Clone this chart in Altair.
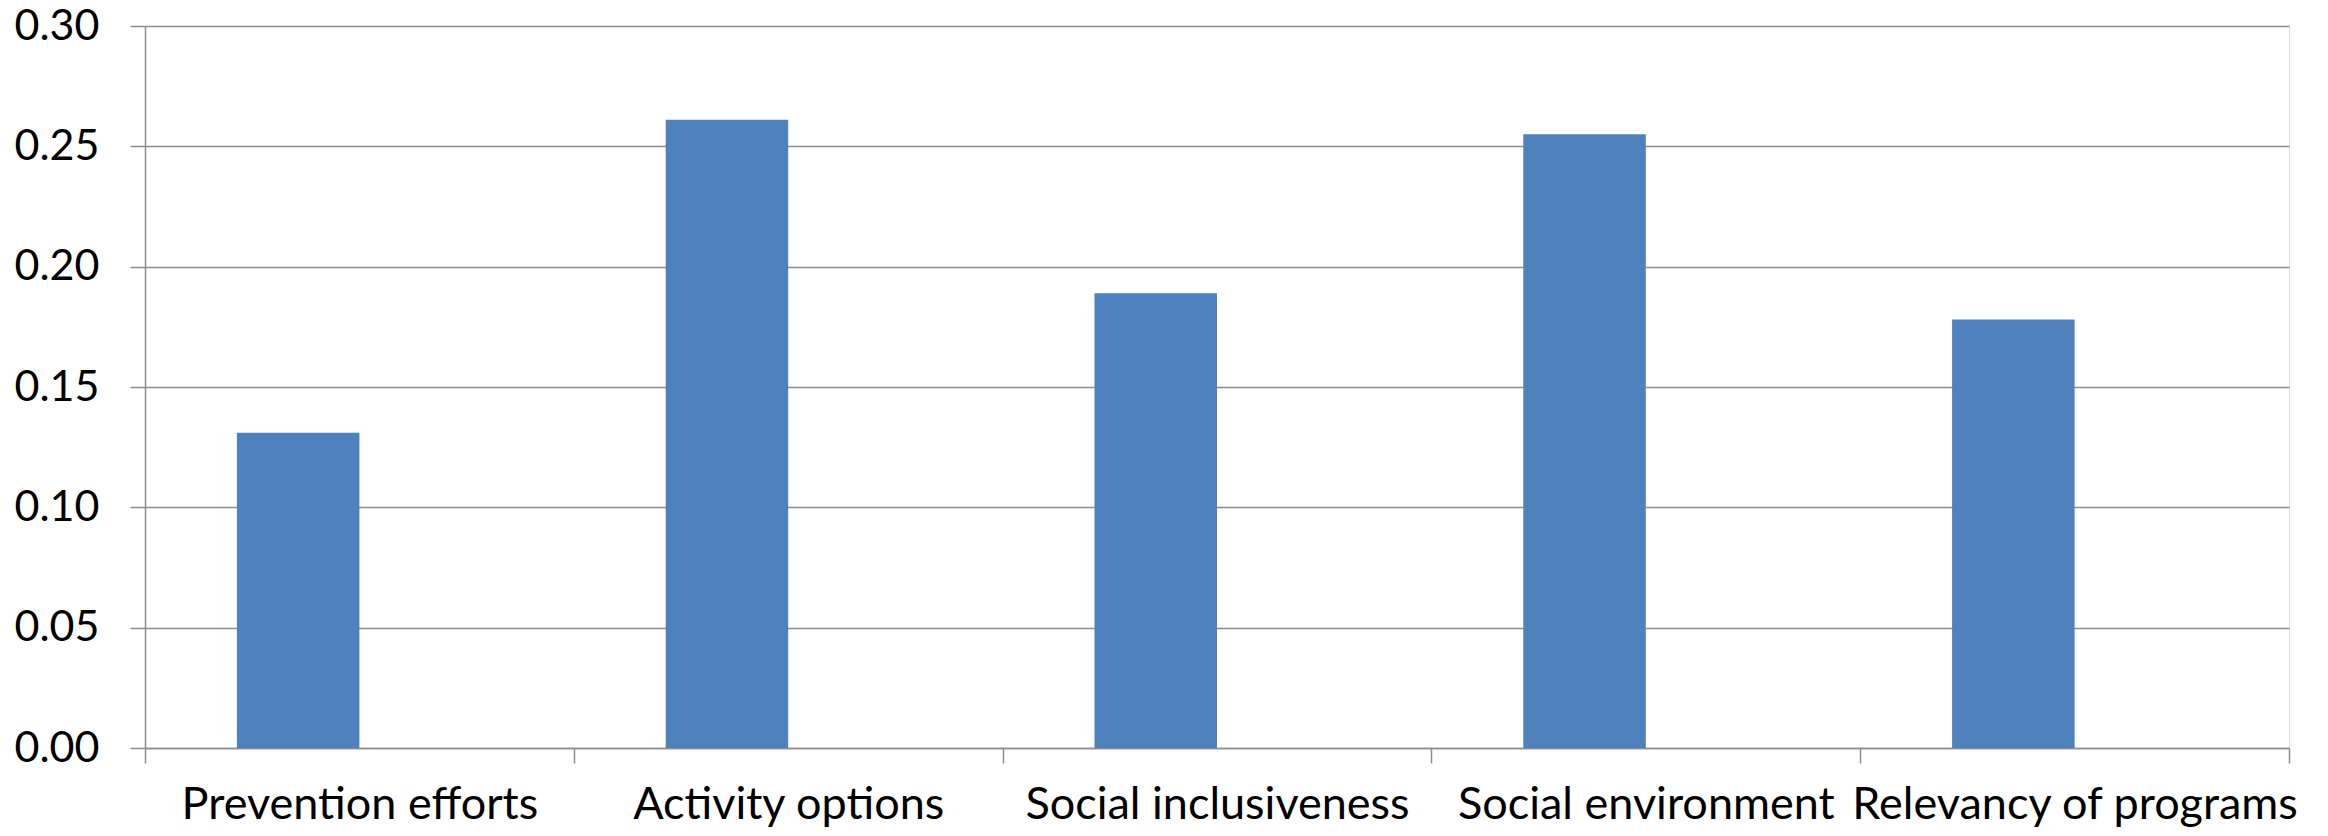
import altair as alt
import pandas as pd

categories = ["Prevention efforts", "Activity options", "Social inclusiveness",
              "Social environment", "Relevancy of programs"]
values = [0.131, 0.261, 0.189, 0.255, 0.178]
series = ["Series 1"] * 5
series_domain = ["Series 1", "Series 2"]
y_ticks = [0.00, 0.05, 0.10, 0.15, 0.20, 0.25, 0.30]

df = pd.DataFrame({"category": categories, "value": values, "series": series})

FONT = "Lato"
GRID = "#8e8e8e"

chart = alt.Chart(df).mark_bar(color="#4F81BD").encode(
    x=alt.X("category:N", sort=categories, title=None,
            scale=alt.Scale(paddingInner=0, paddingOuter=0),
            axis=alt.Axis(labelAngle=0, labelFont=FONT, labelFontSize=45,
                          labelColor="#000000", labelPadding=19, labelLimit=800,
                          tickBand="extent", tickSize=15, tickColor=GRID,
                          tickWidth=1.5, domainColor=GRID, domainWidth=1.5,
                          grid=False)),
    xOffset=alt.XOffset("series:N",
                        scale=alt.Scale(domain=series_domain,
                                        paddingInner=0, paddingOuter=0.75)),
    y=alt.Y("value:Q", title=None,
            scale=alt.Scale(domain=[0, 0.30], nice=False, zero=True),
            axis=alt.Axis(values=y_ticks, format=".2f", labelFont=FONT,
                          labelFontSize=43, labelColor="#000000",
                          labelPadding=31, tickSize=15, tickColor=GRID,
                          tickWidth=1.5, domainColor=GRID, domainWidth=1.5,
                          grid=True, gridColor=GRID, gridWidth=1.5)),
).properties(
    width=2144, height=722,
    autosize=alt.AutoSizeParams(type="none"),
    padding={"left": 137, "top": 18, "right": 31, "bottom": 80},
).configure_view(stroke=None).configure(background="#ffffff")

chart.save("out.html", embed_options={"renderer": "svg", "actions": False})
